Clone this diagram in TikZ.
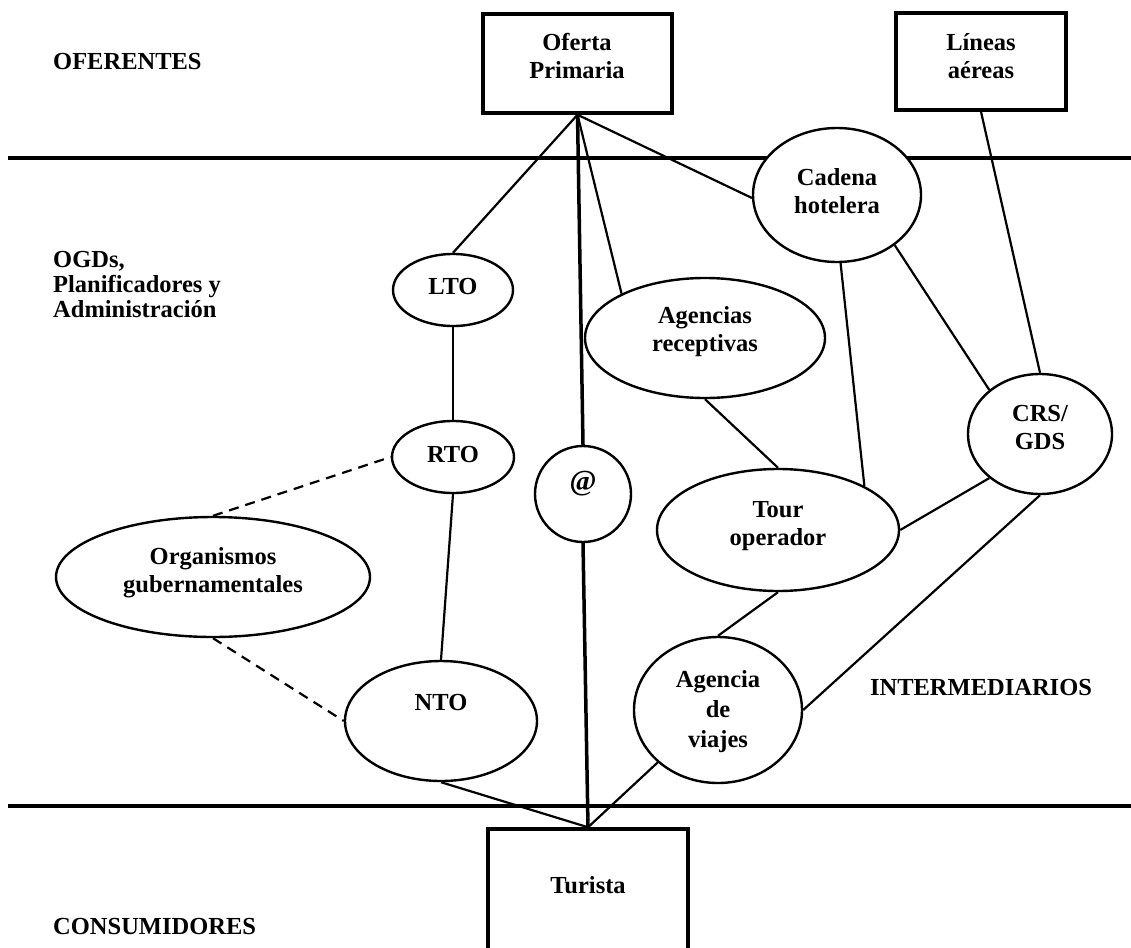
\documentclass[tikz,border=0pt]{standalone}
\usepackage{fontspec}
\setmainfont{Liberation Serif}
\usetikzlibrary{shapes.geometric}
\begin{document}
\begin{tikzpicture}[x=1pt,y=-1pt,
  lbl/.style={font=\bfseries\fontsize{24.5}{28}\selectfont, align=center, inner sep=0pt},
  lblwide/.style={lbl, font=\bfseries\fontsize{24.5}{30}\selectfont},
  side/.style={lbl, align=left, anchor=west, font=\bfseries\fontsize{24.5}{25}\selectfont},
  box/.style={draw, line width=3.5pt, rectangle, inner sep=0pt},
  ell/.style={draw, line width=2.4pt, ellipse, inner sep=0pt, fill=white},
  conn/.style={line width=2.2pt},
  thickconn/.style={line width=3.5pt},
  dconn/.style={line width=2.2pt, dash pattern=on 10pt off 7pt},
  sep/.style={line width=4pt}]
\useasboundingbox[fill=white] (0,0) rectangle (1131,947);

% separators
\draw[sep] (8,158) -- (1131,158);
\draw[sep] (8,806) -- (1131,806);

% side labels
\node[side] (s-of) at (53,62) {OFERENTES};
\node[side] (s-ogd) at (53,285) {OGDs,\\Planificadores y\\Administración};
\node[lbl] (s-int) at (981,687) {INTERMEDIARIOS};
\node[side] (s-con) at (53,926) {CONSUMIDORES};

% boxes
\node[box, minimum width=189pt, minimum height=99pt] (op) at (577.5,63.5) {};
\node[box, minimum width=170pt, minimum height=97pt] (la) at (981,61.5) {};
\node[box, minimum width=200pt, minimum height=170pt] (tu) at (588,914) {};

% ellipses
\node[ell, minimum width=168pt, minimum height=134pt] (cad) at (837,195) {};
\node[ell, minimum width=120pt, minimum height=72pt] (lto) at (453,290) {};
\node[ell, minimum width=122pt, minimum height=72pt] (rto) at (453,457) {};
\node[ell, minimum width=240pt, minimum height=120pt] (ar) at (705,338) {};
\node[ell, minimum width=96pt, minimum height=96pt] (at) at (583,494) {};
\node[ell, minimum width=242pt, minimum height=122pt] (to) at (778,530) {};
\node[ell, minimum width=144pt, minimum height=120pt] (crs) at (1040,434) {};
\node[ell, minimum width=314pt, minimum height=120pt] (og) at (213,577) {};
\node[ell, minimum width=192pt, minimum height=120pt] (nto) at (441,721) {};
\node[ell, minimum width=168pt, minimum height=146pt] (av) at (718,710) {};

% texts
\node[lbl] (t-op) at (577,56) {Oferta\\Primaria};
\node[lbl] (t-la) at (981,56) {Líneas\\aéreas};
\node[lbl] (t-tu) at (588,885) {Turista};
\node[lbl] (t-cad) at (837,191) {Cadena\\hotelera};
\node[lbl] (t-lto) at (453,287) {LTO};
\node[lbl] (t-rto) at (453,455) {RTO};
\node[lbl] (t-ar) at (705,332) {Agencias\\receptivas};
\node[lbl, font=\bfseries\fontsize{29}{30}\selectfont] (t-at) at (583,484) {@};
\node[lbl] (t-to) at (778,526) {Tour\\operador};
\node[lbl] (t-crs) at (1040,428) {CRS/\\GDS};
\node[lbl] (t-og) at (213,573) {Organismos\\gubernamentales};
\node[lbl] (t-nto) at (441,702) {NTO};
\node[lblwide] (t-av) at (718,712) {Agencia\\de\\viajes};

% connectors
\draw[conn] (op.south) -- (lto.north);
\draw[conn] (op.south) -- (ar.152);
\draw[conn] (op.south) -- (cad.182);
\draw[thickconn] (op.south) -- (at.north);
\draw[thickconn] (at.south) -- (tu.north);
\draw[conn] (la.south) -- (crs.north);
\draw[conn] (cad.-41) -- (crs.139);
\draw[conn] (cad.-87) -- (to.27);
\draw[conn] (ar.south) -- (to.north);
\draw[conn] (to.east) -- (crs.221);
\draw[conn] (crs.south) -- (av.east);
\draw[conn] (to.south) -- (av.north);
\draw[conn] (av.221) -- (tu.north);
\draw[conn] (nto.south) -- (tu.north);
\draw[conn] (lto.south) -- (rto.north);
\draw[conn] (rto.south) -- (nto.north);
\draw[dconn] (og.north) -- (rto.west);
\draw[dconn] (og.south) -- (nto.west);
\end{tikzpicture}
\end{document}
